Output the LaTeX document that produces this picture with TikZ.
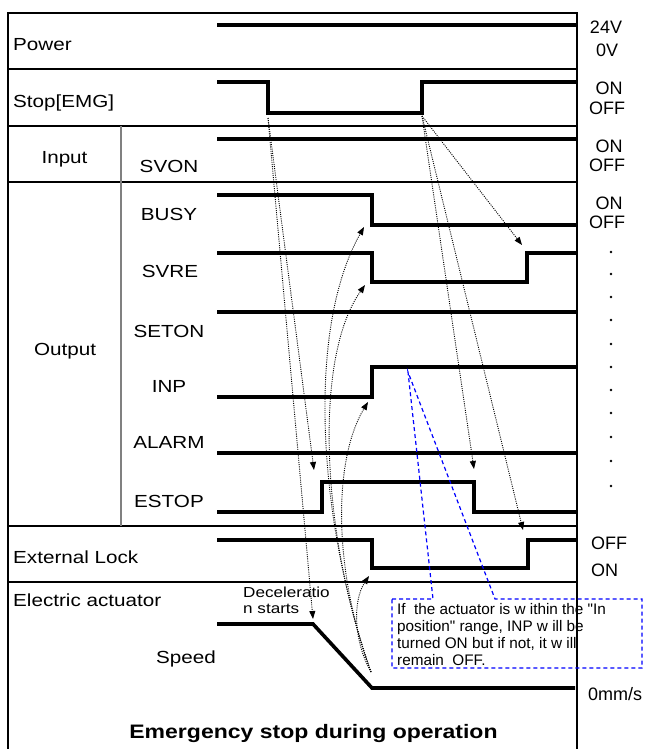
\documentclass[tikz,border=0pt]{standalone}
\usepackage{fontspec}
\setmainfont{Liberation Sans}
\newfontfamily\labfont{Liberation Sans}[FakeStretch=1.18]
\newfontfamily\cfont{Liberation Sans}
\usetikzlibrary{arrows.meta}
\begin{document}
\begin{tikzpicture}[x=1pt,y=-1pt,
  sig/.style={line width=3.6pt, line join=miter, line cap=butt},
  sep/.style={line width=1.4pt},
  con/.style={line width=0.9pt, dash pattern=on 1pt off 1.2pt, -{Triangle[length=8pt,width=6pt]}},
  lab/.style={font=\labfont\fontsize{17.5}{20}\selectfont, inner sep=0pt},
  llab/.style={lab, anchor=base west},
  clab/.style={lab, anchor=base},
  rlab/.style={font=\fontsize{18}{20}\selectfont, inner sep=0pt, anchor=base},
  rlabw/.style={font=\fontsize{18}{20}\selectfont, inner sep=0pt, anchor=base west},
  small/.style={font=\labfont\fontsize{14.5}{16}\selectfont, inner sep=0pt, anchor=base west},
  ctext/.style={font=\cfont\fontsize{15.3}{17}\selectfont, inner sep=0pt, anchor=base west},
  callout/.style={draw=blue, line width=1.2pt, dash pattern=on 4pt off 3pt}]
\fill[white] (0,0) rectangle (657,749);
\useasboundingbox (0,0) rectangle (657,749);

% frame
\draw[sep] (8,749) -- (8,13) -- (577,13) -- (577,749);
\foreach \yy in {69,126,182,526,582} \draw[sep] (8,\yy) -- (577,\yy);
\draw[gray, line width=1.4pt] (121,126) -- (121,526);

% signals
\draw[sig] (217,25) -- (577,25);
\draw[sig] (217,82) -- (268,82) -- (268,113) -- (422,113) -- (422,82) -- (577,82);
\draw[sig] (217,139) -- (577,139);
\draw[sig] (217,195) -- (372,195) -- (372,225) -- (577,225);
\draw[sig] (217,253) -- (372,253) -- (372,282) -- (527,282) -- (527,253) -- (577,253);
\draw[sig] (217,312) -- (577,312);
\draw[sig] (217,397) -- (372,397) -- (372,367) -- (577,367);
\draw[sig] (217,453) -- (577,453);
\draw[sig] (217,512) -- (322,512) -- (322,482) -- (474,482) -- (474,512) -- (577,512);
\draw[sig] (217,540) -- (372,540) -- (372,568) -- (528,568) -- (528,540) -- (577,540);
\draw[sig] (217,624) -- (313,624) -- (372,688) -- (575,688);

% connector end points
\coordinate (sf) at (268,118);
\coordinate (sr) at (422,116);
\coordinate (estopR) at (314,470);
\coordinate (decel) at (313,619);
\coordinate (svreR) at (522,245);
\coordinate (estopF) at (474,469);
\coordinate (elR) at (523,530);
\coordinate (zero) at (371,672);
\coordinate (busyF) at (364,227);
\coordinate (svreF) at (365,285);
\coordinate (inpR) at (368,402);
\coordinate (elF) at (369,576);

\draw[con] (sf) -- (estopR);
\draw[con] (sf) -- (decel);
\draw[con] (sr) -- (svreR);
\draw[con] (sr) -- (estopF);
\draw[con] (sr) -- (elR);
\draw[con] (zero) .. controls (318,520) and (306,330) .. (busyF);
\draw[con] (zero) .. controls (323,540) and (312,360) .. (svreF);
\draw[con] (zero) .. controls (333,570) and (333,460) .. (inpR);
\draw[con] (zero) .. controls (353,640) and (353,600) .. (elF);

% callout
\draw[callout] (392,599) -- (433,599) -- (408,372) -- (495,599) -- (642,599) -- (642,668) -- (392,668) -- cycle;
\node[ctext] (cl1) at (397,614) {If\ \ the actuator is w ithin the "In};
\node[ctext] (cl2) at (397,631) {position" range, INP w ill be};
\node[ctext] (cl3) at (397,648) {turned ON but if not, it w ill};
\node[ctext] (cl4) at (397,665) {remain\ \ OFF.};

% left labels
\node[llab] (power) at (13,51) {Power};
\node[llab] (stop) at (13,108) {Stop[EMG]};
\node[clab] (input) at (64.5,163) {Input};
\node[clab] (output) at (65,355) {Output};
\node[clab] (svon) at (169,172) {SVON};
\node[clab] (busy) at (169,220) {BUSY};
\node[clab] (svre) at (170,277) {SVRE};
\node[clab] (seton) at (169,337) {SETON};
\node[clab] (inp) at (169,392) {INP};
\node[clab] (alarm) at (169,448) {ALARM};
\node[clab] (estop) at (169,507) {ESTOP};
\node[llab] (extlock) at (13,563) {External Lock};
\node[llab] (elact) at (13,606) {Electric actuator};
\node[clab] (speed) at (186,663) {Speed};
\node[small] (dec1) at (243,597) {Deceleratio};
\node[small] (dec2) at (243,613) {n starts};
\node[font=\labfont\bfseries\fontsize{19.5}{22}\selectfont, inner sep=0pt, anchor=base] (title) at (313.5,738) {Emergency stop during operation};

% right labels
\node[rlab] (r1) at (606,34) {24V};
\node[rlab] (r2) at (607,57) {0V};
\node[rlab] (r3) at (609,95) {ON};
\node[rlab] (r4) at (607,114) {OFF};
\node[rlab] (r5) at (609,152) {ON};
\node[rlab] (r6) at (607,171) {OFF};
\node[rlab] (r7) at (609,209) {ON};
\node[rlab] (r8) at (607,228) {OFF};
\node[rlabw] (r9) at (591,549) {OFF};
\node[rlabw] (r10) at (591,576) {ON};
\node[rlabw] (r11) at (588,700) {0mm/s};
\foreach \yy in {252,274,297,320,344,367,390,413,437,461,486}
  \fill (611,\yy) circle (1.3pt);
\end{tikzpicture}
\end{document}
